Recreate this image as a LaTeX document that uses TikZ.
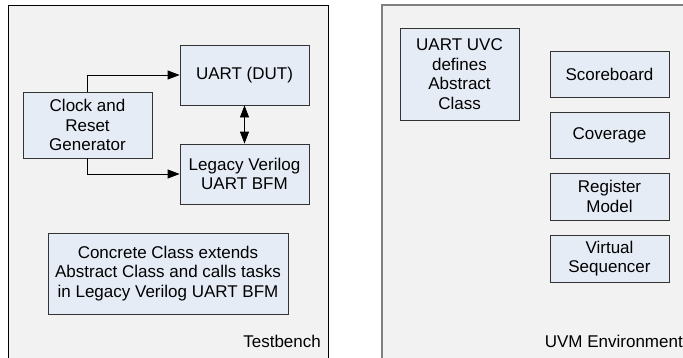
\documentclass[tikz,border=0pt]{standalone}
\usepackage{fontspec}
\setmainfont{Liberation Sans}
\usepackage{tikz}
\usetikzlibrary{calc, positioning, arrows.meta}
\definecolor{panelgray}{HTML}{F2F2F2}
\definecolor{boxblue}{HTML}{E6ECF6}
\definecolor{edgegray}{HTML}{808080}
\tikzstyle{blk}=[draw=black!80, fill=boxblue, line width=0.8pt, inner sep=0pt, align=center, font=\fontsize{17}{19.5}\selectfont]
\tikzstyle{lbl}=[inner sep=0pt, font=\fontsize{17}{19.5}\selectfont]
\tikzset{>={Triangle[length=12pt, width=9pt]}}

\begin{document}
\begin{tikzpicture}[x=1pt, y=-1pt]
\useasboundingbox (0,0) rectangle (683,357);
% the two panels
\fill[panelgray] (8,5) rectangle (328,358);
\draw[line width=1pt] (8,358) -- (8,5) -- (328,5) -- (328,358);
\fill[panelgray] (382,5) rectangle (684,358);
\draw[edgegray, line width=1.5pt] (382,358) -- (382,5) -- (684,5);
% the testbench blocks
\node[blk, minimum width=129pt, minimum height=60pt] (dut) at (244.5,75) {UART (DUT)};
\node[blk, minimum width=129pt, minimum height=66pt] (clk) at (87.5,125) {Clock and\\Reset\\Generator};
\node[blk, minimum width=129pt, minimum height=60pt] (bfm) at (244.5,174) {Legacy Verilog\\UART BFM};
\node[blk, minimum width=240pt, minimum height=81pt] (conc) at (168,273.5) {Concrete Class extends\\Abstract Class and calls tasks\\in Legacy Verilog UART BFM};
\node[lbl, anchor=base east] (tb) at (321,347) {Testbench};
% the environment blocks
\node[blk, minimum width=119pt, minimum height=92pt] (uvc) at (459.5,74) {UART UVC\\defines\\Abstract\\Class};
\node[blk, minimum width=119pt, minimum height=46pt] (sb) at (609.5,74) {Scoreboard};
\node[blk, minimum width=119pt, minimum height=46pt] (cov) at (609.5,135) {Coverage};
\node[blk, minimum width=119pt, minimum height=47pt] (regm) at (609.5,196.5) {Register\\Model};
\node[blk, minimum width=119pt, minimum height=47pt] (vseq) at (609.5,258.5) {Virtual\\Sequencer};
\node[lbl, anchor=base east] (env) at (683,347) {UVM Environment};
% the connections
\draw[->, line width=0.8pt] (clk.north) |- (dut.west);
\draw[->, line width=0.8pt] (clk.south) |- (bfm.west);
\draw[<->, line width=0.8pt] (dut.south) -- (bfm.north);
\end{tikzpicture}
\end{document}
